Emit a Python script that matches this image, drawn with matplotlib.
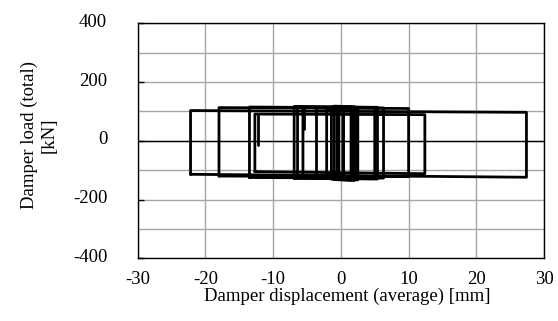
import matplotlib
matplotlib.use("Agg")
import matplotlib.pyplot as plt
from matplotlib.ticker import MultipleLocator
from matplotlib.transforms import offset_copy

# Rectangular friction loops: left/right displacement [mm], load at corners [kN]
loop_left = [-22.2, -18.0, -13.5, -12.7, -6.9, -6.4, -5.6, -3.6, -2.1, -1.4, -1.0, -0.6, -0.3]
loop_right = [27.4, 10.0, 6.3, 12.4, 5.4, 5.0, 2.3, 1.7, 0.3, 2.5, 2.0, 1.5, 0.4]
top_left = [103, 113, 115, 91, 117, 116, 114, 112, 108, 116, 118, 117, 115]
top_right = [97, 110, 112, 89, 114, 113, 112, 110, 106, 114, 116, 115, 113]
bottom_left = [-114, -120, -125, -105, -128, -127, -125, -118, -116, -130, -132, -131, -128]
bottom_right = [-124, -122, -127, -112, -130, -129, -127, -121, -119, -133, -135, -134, -130]

# start/end hooks seen in the record
hook_x = [[-12.2, -12.2], [-5.5, -5.5]]
hook_y = [[91, -14], [114, 40]]

x_ticks = [-30, -20, -10, 0, 10, 20, 30]
y_ticks = [-400, -200, 0, 200, 400]

plt.rcParams["font.family"] = ["Liberation Serif", "DejaVu Serif"]

fig = plt.figure(figsize=(5.58, 3.21), dpi=100)
ax = fig.add_axes([0.2468, 0.1953, 0.7282, 0.7321])

ax.set_xlim(-30, 30)
ax.set_ylim(-400, 400)
ax.set_xticks(x_ticks)
ax.set_yticks(y_ticks)
ax.yaxis.set_minor_locator(MultipleLocator(100))

ax.grid(True, which="both", axis="y", color="#a6a6a6", lw=1.0)
ax.grid(True, which="major", axis="x", color="#a6a6a6", lw=1.0)
ax.set_axisbelow(True)
ax.axhline(0, color="black", lw=1.0, zorder=1.5)

for xl, xr, tl, tr, bl, br in zip(loop_left, loop_right, top_left, top_right,
                                  bottom_left, bottom_right):
    ax.plot([xl, xl, xr, xr, xl], [bl, tl, tr, br, bl], color="black",
            lw=2.0, solid_joinstyle="round", solid_capstyle="round", zorder=3)

for hx, hy in zip(hook_x, hook_y):
    ax.plot(hx, hy, color="black", lw=2.0, solid_capstyle="round", zorder=3)

for s in ax.spines.values():
    s.set_color("black")
    s.set_linewidth(1.0)

ax.tick_params(axis="y", which="major", direction="in", length=4, width=1.0,
               pad=22, labelsize=13.5)
ax.tick_params(axis="y", which="minor", length=0)
ax.tick_params(axis="x", which="major", length=0, pad=9, labelsize=13.5)
ax.set_yticklabels([str(v) for v in y_ticks])
ax.set_xticklabels([str(v) for v in x_ticks])
for lab in ax.get_yticklabels():
    lab.set_transform(offset_copy(lab.get_transform(), fig=fig, x=0, y=3, units="dots"))

fig.text(0.623, 0.078, "Damper displacement (average) [mm]", ha="center",
         va="center", fontsize=13.5)
fig.text(0.07, 0.578, "Damper load (total)\n[kN]", ha="center", va="center",
         rotation=90, fontsize=13.5, linespacing=1.25, multialignment="center")

fig.savefig("out.png", dpi=100, facecolor="white")
